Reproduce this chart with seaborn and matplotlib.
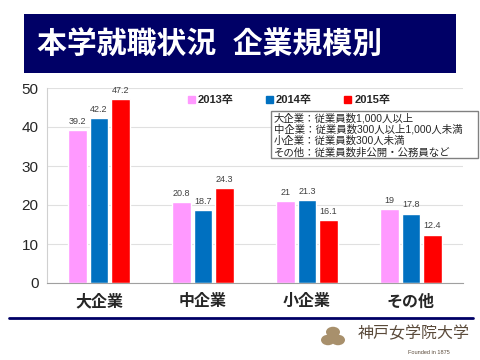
import matplotlib
matplotlib.use("Agg")
import matplotlib.pyplot as plt
from matplotlib.patches import Rectangle, Circle
import pandas as pd
import seaborn as sns

# 企業規模別の就職状況 (%)
categories = ['大企業', '中企業', '小企業', 'その他']
years = ['2013卒', '2014卒', '2015卒']
v2013 = [39.2, 20.8, 21, 19]
v2014 = [42.2, 18.7, 21.3, 17.8]
v2015 = [47.2, 24.3, 16.1, 12.4]
colors = ['#FF99FF', '#0070C0', '#FF0000']
notes = ['大企業：従業員数1,000人以上',
         '中企業：従業員数300人以上1,000人未満',
         '小企業：従業員数300人未満',
         'その他：従業員数非公開・公務員など']

df = pd.DataFrame({
    'cat': categories * 3,
    'year': [y for y in years for _ in categories],
    'val': v2013 + v2014 + v2015,
})

sns.set_style('white')
plt.rcParams['font.family'] = ['Liberation Sans', 'Noto Sans CJK JP', 'DejaVu Sans']

fig = plt.figure(figsize=(4.8, 3.6), dpi=100)
ax = fig.add_axes([47/480, 1-283/360, (463-47)/480, (283-88)/360])

sns.barplot(data=df, x='cat', y='val', hue='year', palette=colors,
            width=0.62, gap=0.14, ax=ax, legend=False, saturation=1)

for c in ax.containers:
    ax.bar_label(c, labels=[f'{v:g}' for v in c.datavalues], fontsize=6.5,
                 color='#404040', padding=3)

ax.set_ylim(0, 50)
ax.set_yticks(range(0, 51, 10))
ax.yaxis.grid(True, color='#E0E0E0', lw=0.8)
ax.set_axisbelow(True)
ax.set_xlabel('')
ax.set_ylabel('')
ax.tick_params(axis='y', labelsize=11, length=0, pad=6)
ax.tick_params(axis='x', labelsize=11.5, length=0, pad=8)
for t in ax.get_xticklabels():
    t.set_fontweight('bold')
for s in ['top', 'right']:
    ax.spines[s].set_visible(False)
ax.spines['left'].set_color('#D0D0D0')
ax.spines['bottom'].set_color('#A0A0A0')

# legend
handles = [Rectangle((0, 0), 1, 1, color=c) for c in colors]
fig.legend(handles, years, ncol=3, loc='center', bbox_to_anchor=(289/480, 1-100/360),
           frameon=False, handlelength=0.6, handleheight=0.6,
           handletextpad=0.3, columnspacing=2.9, prop={'weight': 'bold', 'size': 8})

# note box
fig.patches.append(Rectangle((271/480, 1-158/360), 207/480, 47/360, transform=fig.transFigure,
                             facecolor='white', edgecolor='#808080', lw=1))
for i, n in enumerate(notes):
    fig.text(274/480, 1-(118 + i*11.5)/360, n, fontsize=7.5, va='center', ha='left')

# title banner
fig.patches.append(Rectangle((24/480, 1-73/360), 432/480, 59/360, transform=fig.transFigure,
                             facecolor='#000066', edgecolor='none'))
fig.text(37/480, 1-45/360, '本学就職状況  企業規模別', color='white', fontsize=21.5,
         fontweight='bold', va='center', ha='left')

# bottom rule
fig.add_artist(plt.Line2D([9/480, 473/480], [1-318/360, 1-318/360], color='#000066', lw=2))

# logo
for dx, dy in [(-5, 3), (5, 3), (0, -5)]:
    fig.patches.append(Circle(((333+dx)/480, 1-(337+dy)/360), 7/480, transform=fig.transFigure,
                              facecolor='#A8906C', edgecolor='none'))
fig.text(358/480, 1-334/360, '神戸女学院大学', fontsize=11.5, color='#5A4A3A', va='center', ha='left')
fig.text(429/480, 1-352/360, 'Founded in 1875', fontsize=4, color='#5A4A3A', va='center', ha='center')

fig.savefig('out.png', dpi=100)
